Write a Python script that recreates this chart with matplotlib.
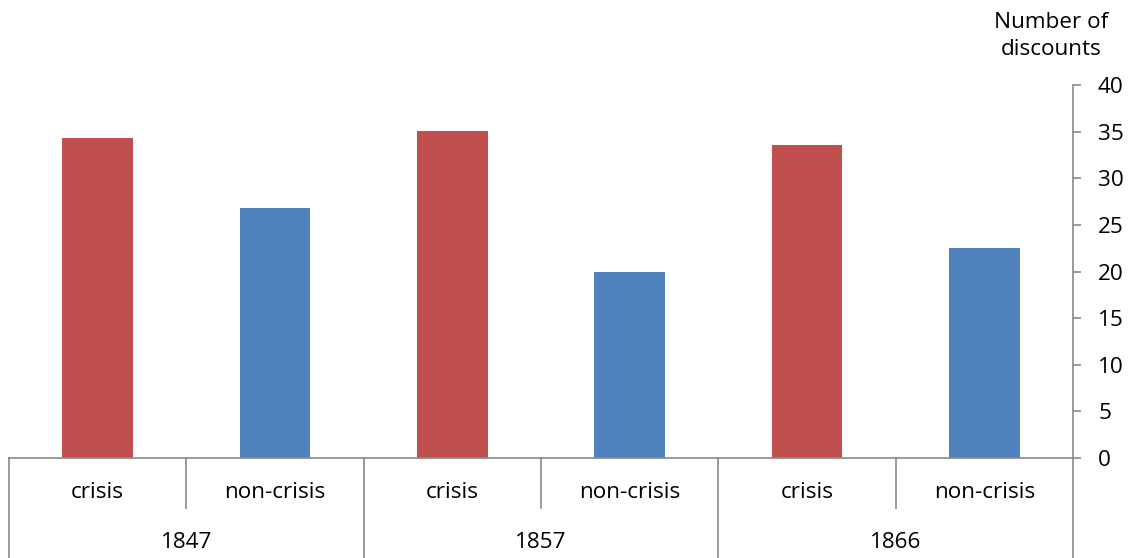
import matplotlib.pyplot as plt
import matplotlib.transforms as mtransforms

# --- data ---
years = ['1847', '1857', '1866']
kinds = ['crisis', 'non-crisis']
discounts = [34.3, 26.8, 35.1, 19.9, 33.6, 22.5]
colors = ['#C0504D', '#4F81BD'] * 3

plt.rcParams['font.family'] = ['Open Sans', 'DejaVu Sans']
grey = '#898989'
fs = 16.2

fig = plt.figure(figsize=(11.32, 5.58), dpi=100)
ax = fig.add_axes([9 / 1132, 100 / 558, (1073 - 9) / 1132, 373 / 558])

x = list(range(len(discounts)))
ax.bar(x, discounts, width=0.4, color=colors)

ax.set_xlim(-0.5, len(discounts) - 0.5)
ax.set_ylim(0, 40)
ax.set_yticks(range(0, 41, 5))
ax.yaxis.tick_right()
ax.tick_params(axis='y', length=6, width=1.2, color=grey, pad=12, labelsize=fs)
ax.set_xticks([])

for s in ['top', 'left']:
    ax.spines[s].set_visible(False)
for s in ['right', 'bottom']:
    ax.spines[s].set_color(grey)
    ax.spines[s].set_linewidth(1.2)

# --- two level category axis ---
trans = mtransforms.blended_transform_factory(ax.transData, ax.transAxes)
sub_depth = -50 / 373
full_depth = -100 / 373
for i in range(len(discounts) + 1):
    xb = i - 0.5
    y0 = full_depth if i % 2 == 0 else sub_depth
    ax.plot([xb, xb], [0, y0], color=grey, lw=1.2, transform=trans, clip_on=False)

for i in range(len(discounts)):
    ax.text(i, -35 / 373, kinds[i % 2], ha='center', va='center',
            fontsize=fs, transform=trans)
for j, yr in enumerate(years):
    ax.text(2 * j + 0.5, -85 / 373, yr, ha='center', va='center',
            fontsize=fs, transform=trans)

fig.text(1051 / 1132, 1 - 36 / 558, 'Number of\ndiscounts', ha='center', va='center',
         fontsize=fs, linespacing=1.4)

fig.savefig('out.png', dpi=100)
